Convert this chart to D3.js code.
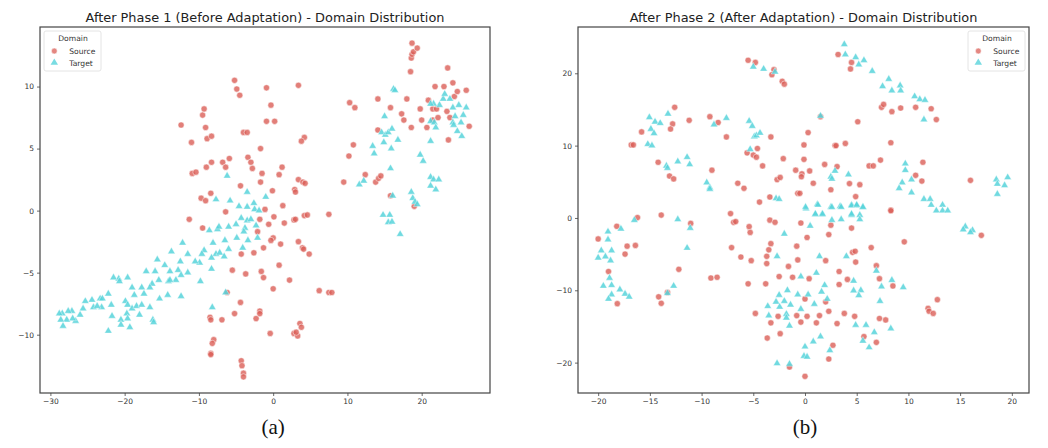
<!DOCTYPE html>
<html><head><meta charset="utf-8">
<script src="https://cdn.jsdelivr.net/npm/d3@7"></script>
<style>body{margin:0;background:#fff}svg{display:block}</style>
</head><body>
<svg id="c" width="1048" height="448"></svg>
<script>
// ---------- DATA ----------
const titles = ["After Phase 1 (Before Adaptation) - Domain Distribution",
                "After Phase 2 (After Adaptation) - Domain Distribution"];
const subLabels = ["(a)", "(b)"];
const legendTitle = "Domain";
const domains = ["Source", "Target"];

const xTicksA = [-30, -20, -10, 0, 10, 20];
const yTicksA = [-10, -5, 0, 5, 10];
const xTicksB = [-20, -15, -10, -5, 0, 5, 10, 15, 20];
const yTicksB = [-20, -10, 0, 10, 20];

const srcA = [
[-12.4,6.9],[-11.0,5.5],[-10.9,3.0],[-10.4,3.1],[-9.5,7.7],[-9.3,8.2],[-9.1,6.7],[-8.9,5.8],[-8.3,6.0],[-9.0,3.5],
[-8.3,3.9],[-8.4,1.4],[-9.7,1.0],[-9.1,0.8],[-6.8,3.9],[-6.4,3.5],[-5.9,4.2],[-5.2,10.5],[-4.9,9.8],[-4.5,9.3],
[-4.0,6.3],[-3.5,6.3],[-3.4,4.3],[-3.0,3.9],[-2.8,3.4],[-4.4,2.0],[-1.7,5.0],[-1.5,3.0],[-1.7,2.3],[-0.9,9.9],
[-0.3,8.5],[-0.9,7.2],[0.2,7.2],[-0.1,1.6],[0.8,2.9],[1.2,3.5],[3.4,10.1],[4.2,5.9],[3.8,5.6],[3.4,2.5],
[4.0,2.3],[4.3,2.2],[2.9,1.7],[3.0,1.5],[1.3,0.4],[-1.1,0.1],[-6.4,-0.1],
[10.3,8.7],[11.0,8.3],[10.8,5.3],[10.2,4.4],[9.5,2.3],[12.4,2.9],[13.8,2.3],[14.2,2.6],[14.5,2.8],
[14.1,6.5],[14.1,9.0],[15.8,8.3],[17.3,7.8],[17.6,7.3],[18.0,9.0],[18.6,6.7],[18.5,11.2],[18.6,12.3],[18.7,12.6],
[18.9,12.8],[18.7,13.5],[19.4,13.1],[19.8,8.2],[20.0,7.3],[20.7,6.7],[20.9,8.9],[21.5,8.2],[22.0,8.2],[21.8,10.0],
[21.5,7.3],[22.2,7.5],[23.0,10.0],[23.5,11.5],[24.2,10.3],[24.4,9.2],[24.8,9.6],[26.0,9.7],[26.4,6.8],[23.4,8.0],
[23.8,7.5],[23.6,5.7],[15.8,1.2],[19.0,0.35],
[-11.3,-0.7],[-9.5,-1.4],[-1.8,-0.7],[-0.6,-1.1],[0.1,-0.5],[1.5,-1.0],[2.8,-0.75],[3.0,-0.7],[4.2,-0.4],[4.6,-0.35],
[7.5,-0.3],[-2.1,-1.7],[0.0,-2.2],[-0.3,-2.4],[1.0,-2.7],[-1.3,-3.0],[-2.6,-3.4],[-4.3,-3.5],[3.4,-2.5],[3.95,-3.0],
[4.1,-3.1],[4.85,-3.5],[-5.5,-4.8],[-3.7,-5.1],[-1.6,-4.9],[-1.3,-5.4],[0.8,-4.4],[2.2,-5.6],[0.0,-6.3],[6.2,-6.45],
[7.5,-6.6],[7.9,-6.6],[-6.2,-6.6],[-4.4,-7.4],[-5.2,-8.3],[-6.9,-8.8],[-8.5,-8.6],[-8.4,-8.8],[-2.3,-8.7],[-1.8,-8.1],
[-1.8,-8.3],[-0.4,-9.9],[2.8,-9.9],[3.3,-10.1],[3.6,-9.1],[3.8,-9.4],[3.1,-9.8],[-8.0,-10.4],[-8.2,-10.7],[-8.4,-11.5],
[-8.4,-11.6],[-4.3,-12.1],[-4.2,-12.5],[-4.0,-13.1],[-4.0,-13.4]
];
const tgtA = [
[-6.2,2.8],[-7.7,0.9],[-5.8,0.8],[-3.5,1.5],[-4.6,0.35],[-3.5,0.3],[-2.6,0.6],[-2.5,0.1],[-1.9,0.0],[-1.0,1.1],
[13.4,5.2],[13.6,4.6],[11.6,2.1],[12.2,2.4],[14.6,6.3],[15.0,7.6],[15.1,6.1],[15.5,6.3],[14.9,5.5],[16.0,6.6],
[15.9,5.0],[15.8,3.4],[16.8,5.7],[16.2,9.8],[16.4,9.7],[16.1,1.2],[18.6,1.5],[18.8,1.0],[19.1,0.7],[19.4,0.5],
[19.8,4.5],[20.2,4.0],[21.2,5.6],[21.2,2.7],[21.6,2.5],[22.3,2.5],[21.2,2.0],[21.9,1.7],[21.2,7.2],[21.7,7.1],
[21.9,6.7],[22.4,8.5],[21.6,8.6],[21.2,8.6],[22.9,9.0],[23.1,9.4],[23.8,9.0],[24.2,8.3],[24.5,7.6],[24.2,7.1],
[25.0,8.5],[25.6,7.7],[26.0,8.3],[25.3,7.1],[24.8,6.4],[25.4,6.0],[24.3,6.9],
[14.8,-0.35],[15.7,-0.35],[15.5,-0.95],[16.0,-0.9],[17.1,-1.9],
[-8.6,-1.6],[-7.5,-1.5],[-7.3,-1.3],[-6.0,-1.3],[-5.0,-1.1],[-4.3,-0.6],[-3.5,-0.8],[-3.0,-0.7],[-2.3,-1.2],[-3.8,-1.4],
[-3.95,-1.7],[-12.2,-2.6],[-8.1,-2.6],[-6.5,-2.4],[-4.9,-2.2],[-3.4,-2.4],[-2.1,-2.2],[-4.1,-3.0],[-6.0,-3.1],[-7.7,-3.5],
[-7.2,-3.4],[-8.3,-3.8],[-6.6,-3.7],[-9.3,-3.2],[-9.6,-3.5],[-9.9,-4.2],[-10.5,-4.1],[-11.5,-3.5],[-13.7,-3.3],[-12.5,-4.1],
[-14.6,-4.4],[-15.6,-3.95],[-17.1,-4.9],[-15.9,-4.9],[-13.9,-4.9],[-12.8,-4.8],[-12.4,-5.2],[-11.5,-5.0],[-13.1,-5.6],[-14.1,-5.7],
[-13.9,-5.6],[-15.4,-5.6],[-16.3,-5.9],[-16.6,-6.2],[-17.7,-6.2],[-19.0,-6.2],[-19.6,-5.4],[-20.8,-5.5],[-20.7,-5.7],[-21.5,-5.4],
[-22.2,-6.7],[-18.7,-6.8],[-17.4,-6.7],[-15.3,-7.1],[-14.2,-6.8],[-12.4,-6.9],[-9.8,-5.7],[-8.3,-4.7],[-6.4,-6.6],[-23.3,-7.1],
[-23.0,-7.1],[-24.4,-7.2],[-25.3,-7.3],[-25.6,-7.9],[-26.0,-8.4],[-26.6,-8.9],[-27.1,-8.1],[-27.6,-8.1],[-27.8,-8.8],[-28.4,-8.3],
[-28.8,-8.3],[-28.6,-8.8],[-28.3,-9.3],[-27.0,-8.7],[-24.2,-7.8],[-23.1,-7.8],[-23.7,-7.7],[-21.8,-7.6],[-21.7,-8.5],[-20.5,-8.8],
[-20.5,-9.2],[-19.9,-7.3],[-19.6,-7.6],[-19.7,-8.3],[-19.6,-8.7],[-19.3,-9.4],[-19.0,-7.9],[-18.4,-7.7],[-18.0,-8.4],[-17.7,-7.6],
[-16.6,-7.8],[-16.2,-8.8],[-16.1,-9.0],[-22.2,-9.7],[-8.2,-7.8]
];
const srcB = [
[-16.8,10.1],[-16.6,10.1],[-15.8,11.9],[-12.6,15.3],[-12.8,13.0],[-13.0,12.3],[-14.2,7.7],[-13.1,5.8],[-12.7,5.4],[-11.2,13.5],
[-9.2,14.0],[-8.4,13.2],[-7.6,11.2],[-9.0,6.6],[-6.5,4.8],[-5.9,4.1],[-5.5,21.8],[-4.8,21.5],[-3.0,20.5],[-3.2,19.8],
[-2.2,18.9],[-2.0,18.5],[-5.6,9.0],[-5.0,8.7],[-4.7,8.4],[-4.6,9.6],[-4.1,7.2],[-3.3,11.2],[-2.1,8.2],[-2.7,5.3],
[-2.4,5.6],[-3.4,2.9],[-4.4,2.2],[-0.9,6.6],[-0.3,6.1],[-0.35,5.7],[-0.1,8.1],[-0.1,10.1],[0.3,11.8],[0.45,6.5],
[0.8,4.8],[-0.7,3.4],[-0.5,3.4],[1.9,7.4],[2.9,10.0],[3.0,10.0],[3.1,7.1],[3.9,10.3],[2.5,3.9],[4.3,4.75],
[5.3,4.6],[4.9,2.95],[3.2,22.6],[4.5,21.5],[4.4,20.6],[5.1,13.3],[6.2,7.2],[6.6,7.2],[7.3,8.0],[7.4,15.3],
[7.6,15.7],[8.4,14.7],[9.25,15.2],[10.7,15.3],[12.2,15.1],[12.7,13.6],[8.3,10.4],[10.7,5.9],[11.4,7.7],[11.3,5.1],
[16.0,5.2],[8.3,1.1],[1.5,14.0],
[-16.2,0.05],[-18.2,-1.15],[-20.0,-2.9],[-17.2,-3.9],[-16.4,-3.8],[-17.4,-5.0],[-19.0,-7.4],[-18.15,-11.85],[-13.9,0.4],[-11.05,-0.75],
[-12.2,-7.1],[-14.15,-10.9],[-13.9,-11.8],[-13.3,-10.3],[-9.1,-8.3],[-8.5,-8.2],[-7.2,0.6],[-6.9,-0.6],[-6.7,-0.5],[-7.1,-4.1],
[-6.2,-5.4],[-5.4,-1.2],[-5.3,-2.0],[-5.2,-5.9],[-5.5,-9.1],[-4.8,-13.2],[-3.4,-0.3],[-2.9,-0.6],[-3.3,-3.55],[-3.5,-4.4],
[-3.7,-5.3],[-3.7,-6.3],[-3.8,-9.1],[-3.3,-14.5],[-2.6,-13.6],[-3.65,-16.6],[-2.4,-16.0],[-2.5,-8.1],[-1.6,-6.7],[-1.2,-8.2],
[-0.7,-5.8],[-0.8,-3.9],[-0.4,-0.7],[0.2,-2.7],[0.4,-8.4],[0.0,-11.2],[-0.8,-13.5],[0.2,-13.6],[-0.4,-14.4],[1.1,-14.5],
[1.4,-13.5],[-1.5,-20.6],[0.0,-21.9],[2.0,-5.9],[2.3,-2.3],[2.5,-1.0],[3.3,-7.4],[3.3,-9.2],[2.0,-11.6],[2.3,-12.9],
[3.1,-14.6],[3.8,-13.2],[2.7,-17.6],[2.3,-19.5],[4.1,-8.5],[4.5,-1.4],[4.6,-4.75],[4.85,-4.6],[4.9,-6.1],[4.8,-13.6],
[5.7,-16.4],[6.4,-4.1],[6.9,-6.6],[7.2,-8.4],[7.2,-13.9],[7.8,-14.1],[6.9,-17.2],[8.5,-9.4],[8.3,1.0],[9.6,-3.3],
[11.9,-12.5],[12.0,-12.9],[12.4,-13.2],[12.8,-11.3],[17.05,-2.4]
];
const tgtB = [
[-15.05,13.9],[-14.5,13.3],[-14.0,13.1],[-14.9,12.3],[-14.6,11.7],[-13.25,14.4],[-15.2,10.2],[-14.8,10.0],[-13.4,7.2],[-13.3,6.9],
[-12.3,7.8],[-11.4,8.4],[-11.15,7.4],[-9.5,4.9],[-9.2,4.2],[-9.2,4.0],[-8.8,12.9],[-7.6,13.8],[-5.4,13.4],[-5.1,12.7],
[-4.9,11.25],[-4.7,11.4],[-4.35,11.75],[-5.3,9.5],[-5.0,20.9],[-4.0,20.6],[-2.9,20.2],[-2.8,2.7],[-2.5,2.6],[1.5,14.1],
[0.1,1.3],[1.2,1.9],[1.0,0.5],[1.65,0.5],[2.5,1.5],[3.4,1.6],[2.5,5.7],[2.6,5.4],[2.9,6.5],[4.2,6.0],
[4.5,1.8],[5.0,1.7],[5.6,1.5],[5.3,0.4],[4.5,0.4],[3.8,24.0],[3.9,22.6],[4.9,22.2],[5.2,21.2],[5.7,21.8],
[6.5,20.3],[7.5,18.2],[8.1,19.2],[8.4,17.6],[9.2,18.3],[9.25,17.6],[10.6,16.8],[11.1,16.4],[11.6,16.3],[11.5,13.6],
[9.7,7.5],[9.7,6.6],[9.4,4.9],[9.1,4.1],[10.3,5.3],[10.3,3.5],[11.5,2.6],[12.1,2.6],[12.2,1.8],[12.7,1.0],
[13.3,1.8],[13.3,1.0],[13.8,1.0],[18.5,5.3],[18.6,4.7],[18.6,3.3],[19.3,4.5],[19.6,5.6],
[-16.5,-0.3],[-17.8,-1.5],[-19.05,-1.9],[-19.05,-3.0],[-19.7,-4.5],[-18.7,-4.5],[-20.0,-5.5],[-19.3,-5.35],[-18.8,-5.9],[-18.9,-8.3],
[-18.7,-9.3],[-19.5,-9.4],[-17.9,-9.9],[-17.4,-10.5],[-17.0,-10.9],[-18.7,-10.6],[-19.0,-11.2],[-12.3,-0.2],[-11.1,-1.4],[-11.4,-4.15],
[-12.7,-9.4],[-13.3,-10.4],[-2.0,-2.2],[-2.7,-5.3],[0.05,1.5],[0.5,-1.1],[1.0,0.55],[1.25,1.8],[1.7,0.55],[2.6,1.5],
[2.6,-0.3],[3.5,1.5],[3.5,-0.2],[4.5,0.55],[4.5,1.7],[5.0,1.8],[5.3,-0.2],[5.6,1.5],[1.4,-5.3],[1.1,-7.6],
[-0.4,-8.1],[4.0,-5.3],[1.9,-9.3],[1.6,-10.2],[2.15,-11.2],[0.9,-11.9],[-0.7,-10.6],[0.3,-10.6],[-0.4,-12.6],[-1.7,-10.0],
[-2.5,-10.65],[-2.0,-11.5],[-2.8,-11.6],[-3.6,-12.2],[-2.45,-12.3],[-1.4,-12.0],[-3.5,-13.5],[-1.8,-13.3],[-1.8,-13.8],[-1.5,-14.9],
[1.5,-16.4],[0.8,-17.1],[0.0,-17.8],[-0.1,-19.1],[0.2,-19.2],[2.4,-18.3],[-2.7,-20.1],[-1.5,-20.2],[4.7,-8.7],[4.7,-10.05],
[5.4,-10.0],[5.2,-10.7],[4.9,-14.8],[5.9,-14.8],[5.6,-17.0],[6.2,-17.9],[6.7,-15.8],[6.9,-7.3],[7.4,-9.5],[7.25,-11.5],
[8.3,-15.3],[8.4,-8.6],[9.5,-9.6],[15.5,-1.2],[15.3,-1.6],[16.2,-1.7],[16.0,-2.0]
];

// ---------- STYLE / LAYOUT ----------
const colors = {Source: "#db5f57", Target: "#57d3db"};
const panels = [
  {src: srcA, tgt: tgtA, xd: [-31.4, 29.2], yd: [-14.7, 14.8], xt: xTicksA, yt: yTicksA,
   left: 40, right: 490, legend: "left", title: titles[0], sub: subLabels[0]},
  {src: srcB, tgt: tgtB, xd: [-21.95, 21.66], yd: [-24.2, 26.4], xt: xTicksB, yt: yTicksB,
   left: 578, right: 1029, legend: "right", title: titles[1], sub: subLabels[1]}
];
const plotTop = 27, plotBottom = 393;
const svg = d3.select("#c");
const tri = d3.symbol().type(d3.symbolTriangle).size(24);

panels.forEach(p => {
  const x = d3.scaleLinear().domain(p.xd).range([p.left, p.right]);
  const y = d3.scaleLinear().domain(p.yd).range([plotBottom, plotTop]);
  const g = svg.append("g");

  // axes
  const ax = g.append("g").attr("transform", `translate(0,${plotBottom})`)
    .call(d3.axisBottom(x).tickValues(p.xt).tickSize(3).tickPadding(3).tickFormat(d => d < 0 ? "\u2212" + Math.abs(d) : d));
  const ay = g.append("g").attr("transform", `translate(${p.left},0)`)
    .call(d3.axisLeft(y).tickValues(p.yt).tickSize(3).tickPadding(3).tickFormat(d => d < 0 ? "\u2212" + Math.abs(d) : d));
  [ax, ay].forEach(a => {
    a.select(".domain").remove();
    a.selectAll("line").attr("stroke", "#444").attr("stroke-width", 0.8);
    a.selectAll("text").attr("fill", "#333").style("font-family", "DejaVu Sans").style("font-size", "7.5px");
  });

  // points
  g.append("g").selectAll("circle").data(p.src).join("circle")
    .attr("cx", d => x(d[0])).attr("cy", d => y(d[1])).attr("r", 3.1)
    .attr("fill", colors.Source).attr("fill-opacity", 0.8)
    .attr("stroke", "#fff").attr("stroke-width", 0.5);
  g.append("g").selectAll("path").data(p.tgt).join("path")
    .attr("d", tri).attr("transform", d => `translate(${x(d[0])},${y(d[1])})`)
    .attr("fill", colors.Target).attr("fill-opacity", 0.85)
    .attr("stroke", "#fff").attr("stroke-width", 0.4);

  // frame
  g.append("rect").attr("x", p.left).attr("y", plotTop)
    .attr("width", p.right - p.left).attr("height", plotBottom - plotTop)
    .attr("fill", "none").attr("stroke", "#444").attr("stroke-width", 1.2);

  // legend
  const lw = 57, lh = 40;
  const lx = p.legend === "left" ? p.left + 4 : p.right - 4 - lw;
  const ly = plotTop + 4;
  const lg = g.append("g").attr("transform", `translate(${lx},${ly})`);
  lg.append("rect").attr("width", lw).attr("height", lh).attr("rx", 2)
    .attr("fill", "#fff").attr("fill-opacity", 0.8).attr("stroke", "#ddd").attr("stroke-width", 0.8);
  lg.append("text").attr("x", lw / 2 + 0.5).attr("y", 9.8).attr("text-anchor", "middle")
    .style("font-family", "DejaVu Sans").style("font-size", "7.6px").attr("fill", "#333").text(legendTitle);
  domains.forEach((dname, i) => {
    const yy = 20 + i * 11.7;
    if (dname === "Source") {
      lg.append("circle").attr("cx", 10.3).attr("cy", yy).attr("r", 2.9)
        .attr("fill", colors.Source).attr("fill-opacity", 0.75).attr("stroke", "#fff").attr("stroke-width", 0.5);
    } else {
      lg.append("path").attr("d", tri).attr("transform", `translate(10.3,${yy})`)
        .attr("fill", colors.Target).attr("fill-opacity", 0.8);
    }
    lg.append("text").attr("x", 25.3).attr("y", yy + 2.8)
      .style("font-family", "DejaVu Sans").style("font-size", "7.6px").attr("fill", "#333").text(dname);
  });

  // title
  g.append("text").attr("x", (p.left + p.right) / 2).attr("y", 21.5).attr("text-anchor", "middle")
    .style("font-family", "DejaVu Sans").style("font-size", "12.9px").attr("fill", "#222").text(p.title);
  // sub label
  g.append("text").attr("x", x(0)).attr("y", 434).attr("text-anchor", "middle")
    .style("font-family", "Liberation Serif").style("font-size", "21px").attr("fill", "#111").text(p.sub);
});
</script>
</body></html>
